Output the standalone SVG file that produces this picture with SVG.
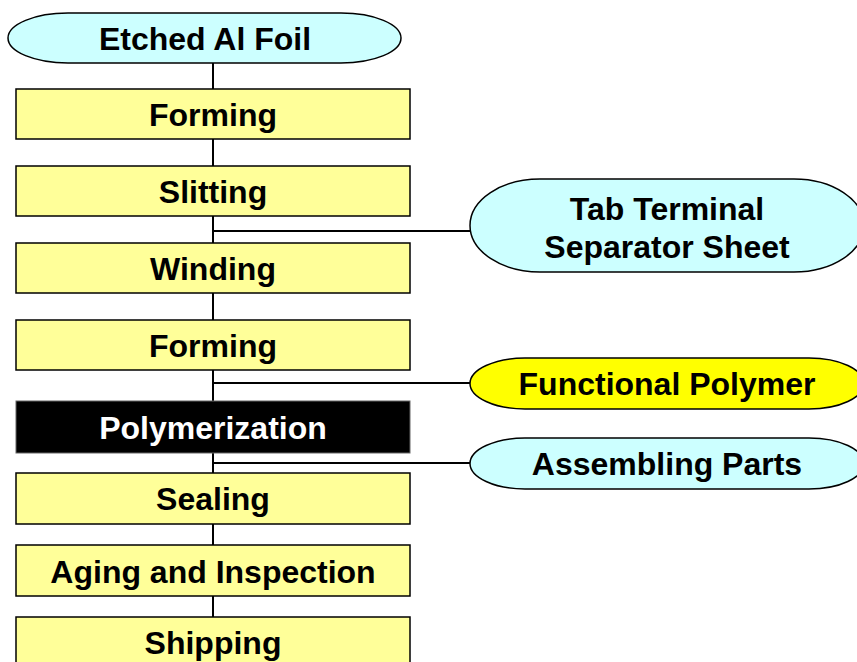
<svg xmlns="http://www.w3.org/2000/svg" width="857" height="662" viewBox="0 0 857 662">
<style>
.box{fill:#FFFF99;stroke:#000;stroke-width:1.5}
.term{fill:#CCFFFF;stroke:#000;stroke-width:1.5}
.poly{fill:#FFFF00;stroke:#000;stroke-width:1.5}
.dark{fill:#000;stroke:#666;stroke-width:1}
.t{font-family:"Liberation Sans",Arial,sans-serif;font-weight:bold;font-size:32px;text-anchor:middle;fill:#000}
.w{fill:#fff}
.c{stroke:#000;stroke-width:2;fill:none}
</style>
<rect width="857" height="662" fill="#fff"/>
<g id="connectors">
<line class="c" x1="213" y1="63" x2="213" y2="620"/>
<line class="c" x1="213" y1="231" x2="471" y2="231"/>
<line class="c" x1="213" y1="383" x2="471" y2="383"/>
<line class="c" x1="213" y1="463" x2="471" y2="463"/>
</g>
<g id="etched"><rect class="term" x="8" y="13" width="393" height="50" rx="60" ry="25"/><text class="t" x="205" y="50">Etched Al Foil</text></g>
<g id="forming1"><rect class="box" x="16" y="89" width="394" height="50"/><text class="t" x="213" y="126">Forming</text></g>
<g id="slitting"><rect class="box" x="16" y="166" width="394" height="50"/><text class="t" x="213" y="203">Slitting</text></g>
<g id="winding"><rect class="box" x="16" y="243" width="394" height="50"/><text class="t" x="213" y="280">Winding</text></g>
<g id="forming2"><rect class="box" x="16" y="320" width="394" height="50"/><text class="t" x="213" y="357">Forming</text></g>
<g id="polymerization"><rect class="dark" x="16" y="401" width="394" height="52"/><text class="t w" x="213" y="439">Polymerization</text></g>
<g id="sealing"><rect class="box" x="16" y="473" width="394" height="51"/><text class="t" x="213" y="510">Sealing</text></g>
<g id="aging"><rect class="box" x="16" y="545" width="394" height="51"/><text class="t" x="213" y="583">Aging and Inspection</text></g>
<g id="shipping"><rect class="box" x="16" y="617" width="394" height="52"/><text class="t" x="213" y="654">Shipping</text></g>
<g id="tab"><rect class="term" x="470" y="179" width="394" height="93" rx="70" ry="46.5"/><text class="t" x="667" y="220">Tab Terminal</text><text class="t" x="667" y="258">Separator Sheet</text></g>
<g id="functional"><rect class="poly" x="470" y="358" width="394" height="51" rx="55" ry="25.5"/><text class="t" x="667" y="395">Functional Polymer</text></g>
<g id="assembling"><rect class="term" x="470" y="438" width="394" height="51" rx="55" ry="25.5"/><text class="t" x="667" y="475">Assembling Parts</text></g>
</svg>
